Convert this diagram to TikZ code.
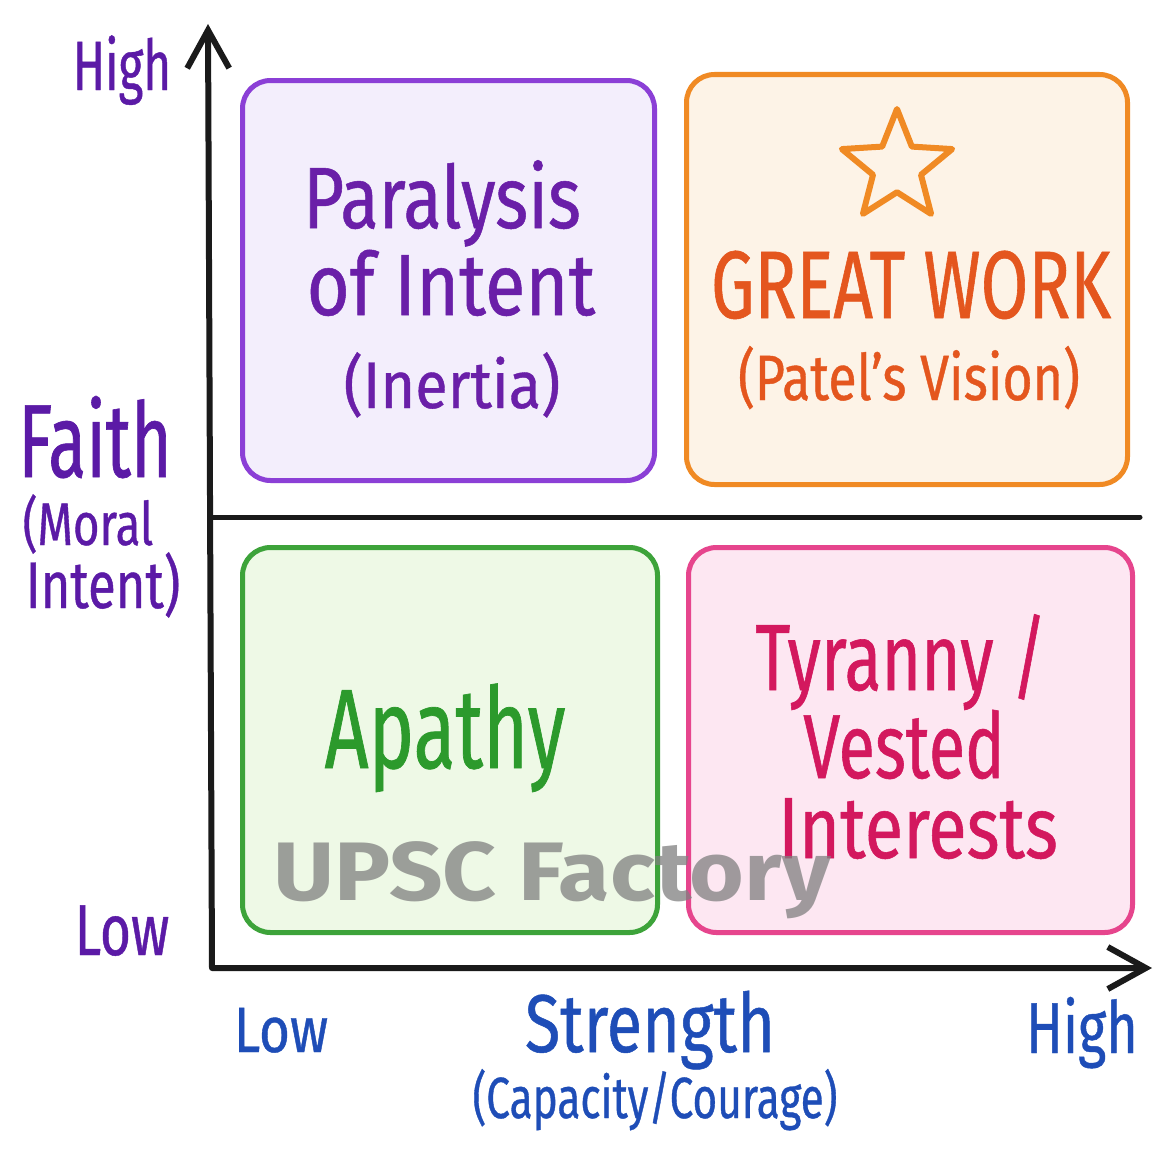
\documentclass[tikz,border=0pt]{standalone}
\usepackage{fontspec}
\usetikzlibrary{arrows.meta,shapes.geometric}
\newfontfamily\hand[FakeBold=0.6]{Fira Sans}
\newfontfamily\wmfont[FakeStretch=1.13]{Fira Sans}
\newcommand\fsz[1]{\fontsize{#1}{#1}\selectfont}
\definecolor{axisink}{HTML}{1A1A1A}
\definecolor{faithink}{HTML}{5B1AA6}
\definecolor{strengthink}{HTML}{1E4DB7}
\definecolor{inertialine}{HTML}{8B3FD6}
\definecolor{inertiafill}{HTML}{F3EEFC}
\definecolor{inertiaink}{HTML}{6A1FA8}
\definecolor{greatline}{HTML}{F08A24}
\definecolor{greatfill}{HTML}{FDF3E7}
\definecolor{greatink}{HTML}{E4561E}
\definecolor{apathyline}{HTML}{3DA33A}
\definecolor{apathyfill}{HTML}{EEF9E6}
\definecolor{apathyink}{HTML}{2C9A2C}
\definecolor{tyrannyline}{HTML}{E6458D}
\definecolor{tyrannyfill}{HTML}{FDE7F2}
\definecolor{tyrannyink}{HTML}{D3185E}
\tikzset{
  quad/.style={rounded corners=28pt,line width=5pt,inner sep=0pt},
  lbl/.style n args={2}{inner sep=0pt,anchor=base,font=\hand\addfontfeature{FakeStretch=#2}\fsz{#1}},
  axis/.style={line width=6pt,color=axisink,line cap=round,line join=round},
}
\begin{document}
\begin{tikzpicture}[x=1pt,y=-1pt]
        \useasboundingbox[fill=white](0,0)rectangle(1175,1156);
        % quadrants
        \node[quad,draw=inertialine,fill=inertiafill,minimum width=412,minimum height=400](inertia)at(448.5,280.5){};
        \node[quad,draw=greatline,fill=greatfill,minimum width=441,minimum height=410](great)at(907,279.5){};
        \node[quad,draw=apathyline,fill=apathyfill,minimum width=415,minimum height=385](apathy)at(450,740){};
        \node[quad,draw=tyrannyline,fill=tyrannyfill,minimum width=444,minimum height=385](tyranny)at(910.5,740){};
        % axes
        \coordinate(origin)at(212,968);
        \coordinate(ytip)at(208,24);
        \coordinate(xtip)at(1152,968);
        \coordinate(midl)at(213,517);
        \coordinate(midr)at(1140,517);
        \draw[axis,{Straight Barb[length=38pt,width=42pt]}-{Straight Barb[length=38pt,width=42pt]}](ytip)--(origin)--(xtip);
        \draw[axis,line width=5pt](midl)--(midr);
        % faith axis
        \node[lbl={70}{0.68},text=faithink](yhigh)at(122,90){High};
        \node[lbl={104}{0.67},text=faithink](faith)at(95,477){Faith};
        \node[lbl={60}{0.76},text=faithink](moral)at(88,545){(Moral};
        \node[lbl={66}{0.77},text=faithink](intent)at(103,608){Intent)};
        \node[lbl={72}{0.74},text=faithink](ylow)at(122,955){Low};
        % strength axis
        \node[lbl={64}{0.83},text=strengthink](xlow)at(281,1052){Low};
        \node[lbl={82}{0.79},text=strengthink](strength)at(650,1052){Strength};
        \node[lbl={58}{0.73},text=strengthink](courage)at(655,1118){(Capacity/Courage)};
        \node[lbl={72}{0.75},text=strengthink](xhigh)at(1082,1053){High};
        % quadrant labels
        \node[lbl={87}{0.81},text=inertiaink](par)at(442,228){Paralysis};
        \node[lbl={87}{0.85},text=inertiaink](ofint)at(451,315){of Intent};
        \node[lbl={66}{0.9},text=inertiaink](inert)at(452,408){(Inertia)};
        \node[star,star points=5,star point ratio=2.3,minimum size=116,inner sep=0pt,draw=greatline,line width=6pt,line join=round](gstar)at(897,167){};
        \node[lbl={96}{0.72},text=greatink](gw)at(911,318){GREAT WORK};
        \node[lbl={64}{0.81},text=greatink](patel)at(909,400){(Patel’s Vision)};
        \node[lbl={113}{0.68},text=apathyink](apa)at(445,768){Apathy};
        \node[lbl={94}{0.72},text=tyrannyink](tyr)at(901,690){Tyranny /};
        \node[lbl={91}{0.73},text=tyrannyink](ves)at(904,778){Vested};
        \node[lbl={87}{0.81},text=tyrannyink](intr)at(918,858){Interests};
        %watermark
        \node[inner sep=0pt,anchor=base,font=\wmfont\bfseries\fsz{83},text=gray,opacity=0.75](wm)at(552,900){UPSC Factory};
    \end{tikzpicture}
\end{document}
